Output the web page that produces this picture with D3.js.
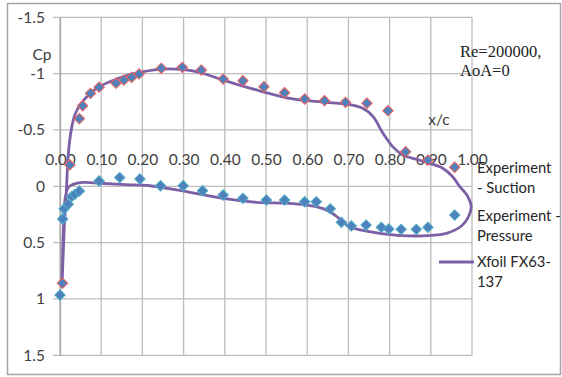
<!DOCTYPE html>
<html>
<head>
<meta charset="utf-8">
<script src="https://cdn.jsdelivr.net/npm/d3@7"></script>
<style>
  body { margin: 0; background: #fff; }
  svg { display: block; }
</style>
</head>
<body>
<div id="chart"></div>
<script>
// --- data ---
const suctionX  = [0.006, 0.024, 0.047, 0.055, 0.074, 0.095, 0.136, 0.155, 0.174, 0.192, 0.246, 0.297, 0.343, 0.396, 0.444, 0.495, 0.545, 0.594, 0.642, 0.693, 0.745, 0.796, 0.839, 0.893, 0.958];
const suctionCp = [0.86, -0.19, -0.60, -0.715, -0.825, -0.88, -0.915, -0.943, -0.967, -0.997, -1.047, -1.056, -1.032, -0.952, -0.937, -0.884, -0.831, -0.775, -0.76, -0.745, -0.737, -0.671, -0.307, -0.233, -0.169];

const pressureX  = [0, 0.0065, 0.01, 0.02, 0.028, 0.036, 0.047, 0.095, 0.145, 0.194, 0.244, 0.299, 0.346, 0.396, 0.444, 0.501, 0.545, 0.594, 0.622, 0.656, 0.683, 0.707, 0.743, 0.780, 0.798, 0.828, 0.865, 0.893, 0.958];
const pressureCp = [0.965, 0.29, 0.2, 0.16, 0.092, 0.071, 0.042, -0.047, -0.077, -0.065, -0.005, -0.005, 0.039, 0.077, 0.107, 0.122, 0.122, 0.137, 0.137, 0.2, 0.32, 0.352, 0.344, 0.364, 0.379, 0.382, 0.382, 0.364, 0.255];

// Xfoil FX63-137: closed loop, upper surface TE -> LE, then lower surface LE -> TE
const xfoilX  = [0.998, 0.988, 0.97, 0.953, 0.929, 0.897, 0.865, 0.832, 0.808, 0.784, 0.76, 0.735, 0.695, 0.655, 0.60, 0.558, 0.477, 0.396, 0.339, 0.30, 0.25, 0.202, 0.162, 0.121, 0.089, 0.065, 0.048, 0.036, 0.028, 0.02, 0.016, 0.01, 0.005,
                 0.008, 0.012, 0.02, 0.03, 0.056, 0.097, 0.16, 0.218, 0.28, 0.339, 0.396, 0.477, 0.558, 0.622, 0.655, 0.679, 0.703, 0.776, 0.82, 0.88, 0.94, 0.975, 0.99];
const xfoilCp = [0.18, 0.08, 0.0, -0.085, -0.16, -0.204, -0.24, -0.278, -0.35, -0.47, -0.618, -0.692, -0.73, -0.742, -0.76, -0.78, -0.855, -0.943, -1.01, -1.035, -1.04, -1.017, -0.982, -0.928, -0.87, -0.795, -0.72, -0.633, -0.515, -0.28, 0.0, 0.4, 0.86,
                 0.4, 0.12, 0.01, -0.015, -0.035, -0.027, -0.015, -0.005, 0.03, 0.07, 0.107, 0.142, 0.151, 0.181, 0.225, 0.29, 0.36, 0.418, 0.435, 0.44, 0.415, 0.35, 0.28];

const xTicks = [0, 0.1, 0.2, 0.3, 0.4, 0.5, 0.6, 0.7, 0.8, 0.9, 1.0];
const yTicks = [-1.5, -1, -0.5, 0, 0.5, 1, 1.5];

const legendItems = [
  { lines: ['Experiment', '- Suction'], y: 168 },
  { lines: ['Experiment -', 'Pressure'], y: 216 },
  { lines: ['Xfoil FX63-', '137'], y: 262, line: true }
];

// --- layout ---
const W = 562, H = 377;
const svg = d3.select('#chart').append('svg').attr('width', W).attr('height', H);

const x = d3.scaleLinear().domain([0, 1]).range([60, 472]);
const y = d3.scaleLinear().domain([-1.5, 1.5]).range([17.3, 355.3]);

const font = 'Lato, "Open Sans", sans-serif';
const gridColor = '#bdbdbd';
const purple = '#7d5fa6';

// chart frame
svg.append('rect')
  .attr('x', 7.5).attr('y', 3.5)
  .attr('width', 553).attr('height', 371)
  .attr('fill', '#fff')
  .attr('stroke', '#a6a6a6')
  .attr('stroke-width', 1.5);

// grid
const grid = svg.append('g');
grid.selectAll('line.v').data(xTicks).enter().append('line')
  .attr('x1', d => x(d)).attr('x2', d => x(d))
  .attr('y1', y(-1.5)).attr('y2', y(1.5))
  .attr('stroke', gridColor).attr('stroke-width', 1.3);
grid.selectAll('line.h').data(yTicks).enter().append('line')
  .attr('x1', x(0) - 7).attr('x2', x(1))
  .attr('y1', d => y(d)).attr('y2', d => y(d))
  .attr('stroke', gridColor).attr('stroke-width', 1.3);

// y axis
const yAxis = svg.append('g')
  .attr('transform', `translate(${x(0)},0)`)
  .call(d3.axisLeft(y).tickValues(yTicks).tickSize(0).tickPadding(15).tickFormat(d => String(d)));
yAxis.select('.domain').attr('stroke', '#a6a6a6').attr('stroke-width', 1.3);
yAxis.selectAll('text').attr('font-family', font).attr('font-size', 15.5).attr('fill', '#404040');

// x axis labels sit above the Cp = 0 line
const xAxis = svg.append('g')
  .attr('transform', `translate(0,${y(0)})`)
  .call(d3.axisTop(x).tickValues(xTicks).tickSize(0).tickPadding(21).tickFormat(d3.format('.2f')));
xAxis.select('.domain').remove();
xAxis.selectAll('text').attr('font-family', font).attr('font-size', 15.5).attr('fill', '#404040');

// axis titles
svg.append('text').attr('x', 42).attr('y', 60).attr('text-anchor', 'middle')
  .attr('font-family', font).attr('font-size', 15.5).attr('fill', '#404040').text('Cp');
svg.append('text').attr('x', 439).attr('y', 125).attr('text-anchor', 'middle')
  .attr('font-family', font).attr('font-size', 15.5).attr('fill', '#404040').text('x/c');

// annotation
const note = svg.append('text').attr('font-family', '"Liberation Serif", "Times New Roman", serif')
  .attr('font-size', 16.5).attr('fill', '#222');
note.append('tspan').attr('x', 460).attr('y', 56.5).text('Re=200000,');
note.append('tspan').attr('x', 460).attr('y', 75.5).text('AoA=0');

// Xfoil line
const xfoil = xfoilX.map((d, i) => [d, xfoilCp[i]]);
svg.append('path')
  .datum(xfoil)
  .attr('fill', 'none')
  .attr('stroke', purple)
  .attr('stroke-width', 2.8)
  .attr('d', d3.line().x(d => x(d[0])).y(d => y(d[1])).curve(d3.curveCatmullRomClosed.alpha(0.5)));

// markers
const diamond = d3.symbol().type(d3.symbolSquare).size(54);
function drawMarkers(xs, cps, fill, stroke) {
  svg.append('g').selectAll('path')
    .data(xs.map((d, i) => [d, cps[i]]))
    .enter().append('path')
    .attr('d', diamond)
    .attr('transform', d => `translate(${x(d[0])},${y(d[1])}) rotate(45)`)
    .attr('fill', fill)
    .attr('stroke', stroke)
    .attr('stroke-width', 1);
}
drawMarkers(suctionX, suctionCp, '#4f81bd', '#f0605d');
drawMarkers(pressureX, pressureCp, '#4f81bd', '#4bacc6');

// legend
const legend = svg.append('g');
legendItems.forEach(item => {
  const t = legend.append('text').attr('font-family', font).attr('font-size', 14.8).attr('fill', '#262626');
  item.lines.forEach((s, i) => {
    t.append('tspan').attr('x', 477).attr('y', item.y + 5 + i * 20).text(s);
  });
  if (item.line) {
    legend.append('line')
      .attr('x1', 439).attr('x2', 474)
      .attr('y1', item.y).attr('y2', item.y)
      .attr('stroke', purple).attr('stroke-width', 2.8);
  }
});
</script>
</body>
</html>
